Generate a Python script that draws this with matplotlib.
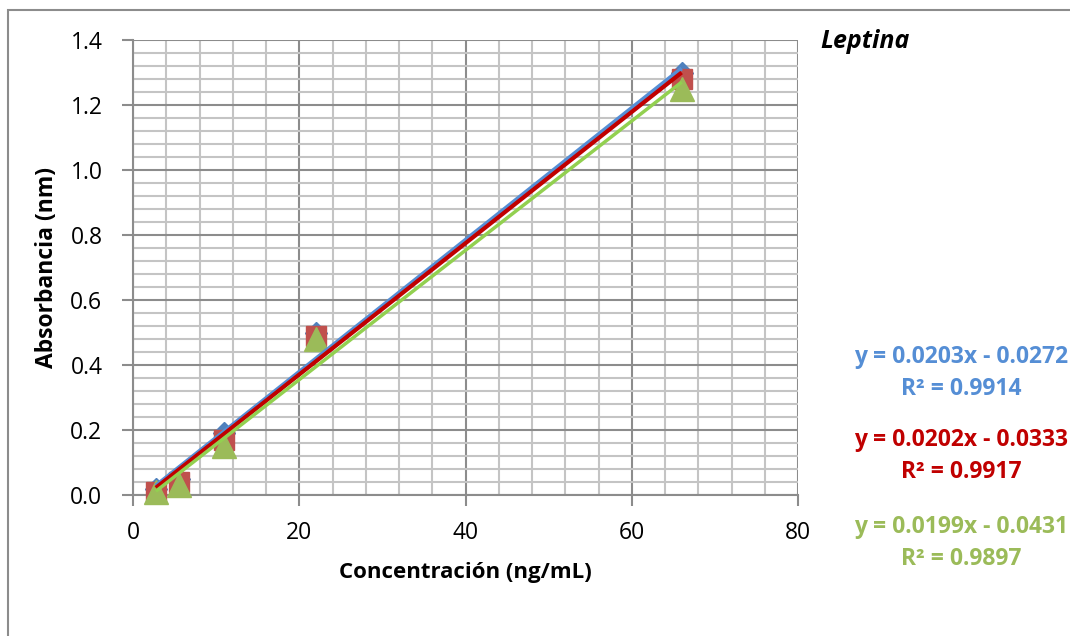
import matplotlib
matplotlib.use("Agg")
import matplotlib.pyplot as plt
from matplotlib.patches import Rectangle
from matplotlib.ticker import MultipleLocator
import numpy as np

plt.rcParams['font.family'] = ['Open Sans', 'DejaVu Sans']

# Data
conc = [2.75, 5.5, 11, 22, 66]
abs_s1 = [0.02, 0.05, 0.19, 0.50, 1.30]
abs_s2 = [0.01, 0.04, 0.17, 0.49, 1.28]
abs_s3 = [0.01, 0.03, 0.15, 0.48, 1.25]
slopes = [0.0203, 0.0202, 0.0199]
intercepts = [-0.0272, -0.0333, -0.0431]
eq_labels = ["y = 0.0203x - 0.0272\nR² = 0.9914",
             "y = 0.0202x - 0.0333\nR² = 0.9917",
             "y = 0.0199x - 0.0431\nR² = 0.9897"]
title = "Leptina"
xlabel = "Concentración (ng/mL)"
ylabel = "Absorbancia (nm)"

W, H = 1070, 636
fig = plt.figure(figsize=(W / 100, H / 100), dpi=100)
ax = fig.add_axes([133 / W, 1 - 495 / H, (798 - 133) / W, (495 - 40) / H])

# outer chart frame
fig.patches.append(Rectangle((8 / W, -0.05), 1.2, 1 - 10 / H + 0.05,
                             transform=fig.transFigure, fill=False,
                             edgecolor='#8c8c8c', linewidth=1.5, zorder=0))

ax.set_xlim(0, 80)
ax.set_ylim(0, 1.4)
ax.xaxis.set_major_locator(MultipleLocator(20))
ax.xaxis.set_minor_locator(MultipleLocator(4))
ax.yaxis.set_major_locator(MultipleLocator(0.2))
ax.yaxis.set_minor_locator(MultipleLocator(0.04))
ax.yaxis.set_major_formatter(matplotlib.ticker.FormatStrFormatter('%.1f'))
ax.grid(which='minor', color='#c4c4c4', linewidth=1.5, zorder=0)
ax.grid(which='major', color='#8c8c8c', linewidth=1.5, zorder=0)
ax.set_axisbelow(True)
for s in ['top', 'right']:
    ax.spines[s].set_visible(False)
for s in ['left', 'bottom']:
    ax.spines[s].set_color('#8c8c8c')
    ax.spines[s].set_linewidth(1.5)
ax.tick_params(which='major', direction='out', length=8, width=1.5,
               color='#8c8c8c', labelsize=16.5)
ax.tick_params(axis='y', which='major', pad=14)
ax.tick_params(axis='x', which='major', pad=11)
ax.tick_params(which='minor', length=0)

ax.set_xlabel(xlabel, fontsize=16, fontweight='bold', labelpad=12)
ax.set_ylabel(ylabel, fontsize=16.5, fontweight='bold', labelpad=8)

marker_colors = ['#4F81BD', '#C0504D', '#9BBB59']
line_colors = ['#558ED5', '#C00000', '#92D050']
text_colors = ['#558ED5', '#C00000', '#9BBB59']
ax.plot(conc, abs_s1, linestyle='none', marker='D', markersize=11,
        color=marker_colors[0], zorder=3, clip_on=False)
ax.plot(conc, abs_s2, linestyle='none', marker='s', markersize=15,
        color=marker_colors[1], zorder=3, clip_on=False)
ax.plot(conc, abs_s3, linestyle='none', marker='^', markersize=17,
        color=marker_colors[2], zorder=3, clip_on=False)

xs = np.array([min(conc), max(conc)])
widths = [3, 3, 2.5]
for m, b, c, lw in zip(slopes, intercepts, line_colors, widths):
    ax.plot(xs, m * xs + b, color=c, linewidth=lw, zorder=4,
            solid_capstyle='butt')

fig.text(865 / W, 1 - 42 / H, title, fontsize=18, fontweight='bold',
         fontstyle='italic', ha='center', va='center')

ys = [373, 456, 543]
for lab, c, y in zip(eq_labels, text_colors, ys):
    fig.text(961 / W, 1 - y / H, lab, fontsize=16.5, fontweight='bold',
             color=c, ha='center', va='center', linespacing=1.45)

fig.savefig("out.png", dpi=100)
